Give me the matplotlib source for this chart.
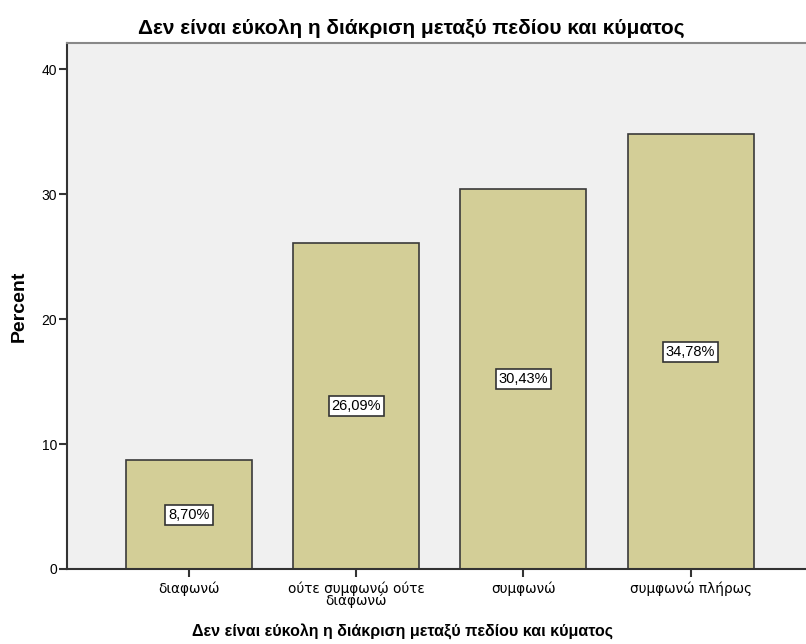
import matplotlib.pyplot as plt

plt.rcParams["font.family"] = ["Liberation Sans", "DejaVu Sans"]

categories = ["διαφωνώ", "ούτε συμφωνώ ούτε\nδιαφωνώ", "συμφωνώ", "συμφωνώ πλήρως"]
percents = [8.70, 26.09, 30.43, 34.78]
yticks = [0, 10, 20, 30, 40]
title = "Δεν είναι εύκολη η διάκριση μεταξύ πεδίου και κύματος"

fig = plt.figure(figsize=(8.06, 6.44), dpi=100)
ax = fig.add_axes([0.0831, 0.1165, 0.9169, 0.8167])
ax.set_facecolor("#f0f0f0")

x = list(range(len(categories)))
ax.bar(x, percents, width=0.753, color="#d3ce97", edgecolor="#3a3a3a", linewidth=1.2)

for xi, p in zip(x, percents):
    ax.text(xi, p / 2, f"{p:.2f}%".replace(".", ","), ha="center", va="center",
            fontsize=10.5, color="black",
            bbox=dict(boxstyle="square,pad=0.2", facecolor="white",
                      edgecolor="#333333", linewidth=1.2))

ax.set_xlim(-0.73, 3.69)
ax.set_ylim(0, 42.1)
ax.set_xticks(x)
ax.set_xticklabels(categories, fontsize=9.8, linespacing=0.75, family="DejaVu Sans")
ax.set_yticks(yticks)
ax.tick_params(axis="y", labelsize=10, length=6, width=1.5, color="#333333", pad=1)
ax.tick_params(axis="x", length=6, width=1.5, color="#333333", pad=3)

for side in ["left", "bottom"]:
    ax.spines[side].set_color("#333333")
    ax.spines[side].set_linewidth(1.5)
ax.spines["top"].set_color("#888888")
ax.spines["top"].set_linewidth(1.5)
ax.spines["right"].set_visible(False)

ax.set_ylabel("Percent", fontsize=14, fontweight="bold", labelpad=10)
fig.text(0.5, 0.019, title, ha="center", va="center", fontsize=11.5, fontweight="bold")
fig.text(0.51, 0.956, title, ha="center", va="center", fontsize=15, fontweight="bold")

fig.savefig("out.png", dpi=100)
